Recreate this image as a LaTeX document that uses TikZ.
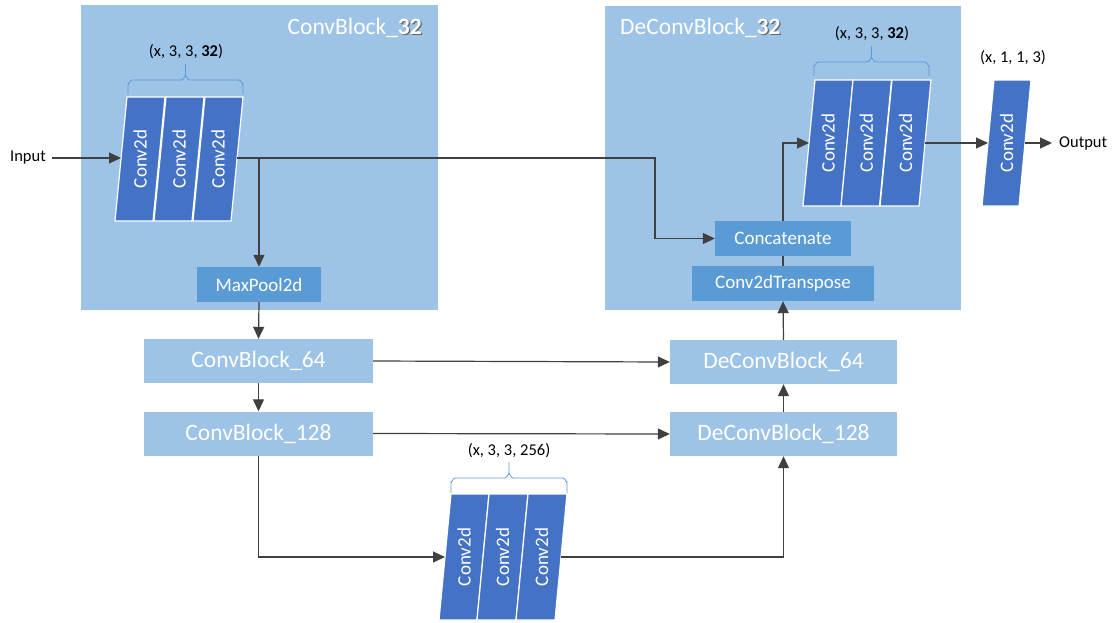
\documentclass[tikz,border=0pt]{standalone}
\usepackage{fontspec}
\setmainfont{Carlito}
\usetikzlibrary{arrows.meta,calc}
\definecolor{lightb}{HTML}{9DC3E6}
\definecolor{medb}{HTML}{5B9BD5}
\definecolor{darkb}{HTML}{4472C4}
\definecolor{lineg}{HTML}{404040}
\newcommand\fbig{\fontsize{23.5}{28}\selectfont}
\newcommand\fmed{\fontsize{19}{23}\selectfont}
\newcommand\fsml{\fontsize{16.5}{20}\selectfont}
\newcommand\shb[1]{\makebox[0pt][l]{\hspace{1.2pt}\raisebox{-1.2pt}{\textcolor{black!60}{\textbf{#1}}}}\textbf{#1}}
% column: name, top-left x, top y, bottom y, width
\newcommand\convcol[5]{%
  \pgfmathsetmacro\ccA{#2+#5}\pgfmathsetmacro\ccB{#2+#5-12}\pgfmathsetmacro\ccC{#2-12}%
  \pgfmathsetmacro\ccX{#2-6+#5/2}\pgfmathsetmacro\ccY{(#3+#4)/2}%
  \path[fill=darkb,draw=white,line width=1.2pt] (#2,#3) -- (\ccA,#3) -- (\ccB,#4) -- (\ccC,#4) -- cycle;
  \node[coltext] (#1) at (\ccX,\ccY) {Conv2d};}
\newcommand\hbr[5]{% x1 x2 yend yline ytip
  \pgfmathsetmacro\hbM{(#1+#2)/2}\pgfmathsetmacro\hbL{#1+4}\pgfmathsetmacro\hbR{#2-4}%
  \pgfmathsetmacro\hbML{\hbM-4}\pgfmathsetmacro\hbMR{\hbM+4}\pgfmathsetmacro\hbYa{#4+4}\pgfmathsetmacro\hbYb{#4-4}%
  \draw[medb,line width=0.8pt] (#1,#3) -- (#1,\hbYa) to[out=-90,in=180] (\hbL,#4) -- (\hbML,#4) to[out=0,in=90] (\hbM,\hbYb) -- (\hbM,#5);
  \draw[medb,line width=0.8pt] (#2,#3) -- (#2,\hbYa) to[out=-90,in=0] (\hbR,#4) -- (\hbMR,#4) to[out=180,in=90] (\hbM,\hbYb);}
\begin{document}
\begin{tikzpicture}[x=1pt,y=-1pt,
  coltext/.style={rotate=90,text=white,font=\fmed,inner sep=0pt},
  blk/.style={fill=lightb,text=white,font=\fbig,minimum width=229pt,minimum height=44pt,inner sep=0pt},
  opbox/.style={fill=medb,text=white,font=\fmed,minimum height=35pt,inner sep=0pt},
  lbl/.style={font=\fsml,text=black,inner sep=0pt},
  ttl/.style={font=\fbig,text=white,inner sep=0pt},
  ln/.style={draw=lineg,line width=1.2pt},
  arr/.style={ln,-{Triangle[length=12pt,width=11pt]}}]
\useasboundingbox[fill=white] (0,0) rectangle (1114,622);
% big blocks
\fill[lightb] (81,5) rectangle (438,310);
\fill[lightb] (605,6) rectangle (961,310);
\node[ttl,anchor=east] (t1) at (422,28) {ConvBlock\_\shb{32}};
\node[ttl,anchor=west] (t2) at (620,28) {DeConvBlock\_\shb{32}};
% encoder stack
\convcol{e1}{127}{97}{221}{38}
\convcol{e2}{166}{97}{221}{38}
\convcol{e3}{205}{97}{221}{38}
\hbr{128}{243}{94}{80}{64}
\node[lbl] (le) at (186,52) {(x, 3, 3, \textbf{32})};
\coordinate (encin) at (121,158);
\coordinate (encout) at (237,158);
\node[lbl,anchor=east] (inp) at (46,158) {Input};
% decoder stack
\convcol{d1}{815}{80}{206}{38}
\convcol{d2}{853}{80}{206}{38.5}
\convcol{d3}{892}{80}{206}{39}
\hbr{814}{929}{76}{62}{46}
\node[lbl] (ld) at (872,34) {(x, 3, 3, \textbf{32})};
\coordinate (decin) at (809,143);
\coordinate (decout) at (925,143);
% output conv
\convcol{o1}{994}{80}{206}{37}
\node[lbl] (lo) at (1013,58) {(x, 1, 1, 3)};
\coordinate (outin) at (988,143);
\coordinate (outout) at (1025,143);
\node[lbl,anchor=west] (outp) at (1059,143) {Output};
\coordinate (outend) at (1052,143);
% bottleneck
\convcol{b1}{451}{494}{620}{38}
\convcol{b2}{489}{494}{620}{39}
\convcol{b3}{528}{494}{620}{39}
\hbr{451}{567}{493}{478}{462}
\node[lbl] (lb) at (509,451) {(x, 3, 3, 256)};
\coordinate (botin) at (445,557);
\coordinate (botout) at (561,557);
% boxes
\node[opbox,minimum width=124pt] (mp) at (259,284.5) {MaxPool2d};
\node[blk] (cb64) at (258.5,361) {ConvBlock\_64};
\node[blk] (cb128) at (258.5,433.5) {ConvBlock\_128};
\node[blk,minimum width=227pt] (dcb64) at (783.5,362) {DeConvBlock\_64};
\node[blk,minimum width=227pt] (dcb128) at (783.5,434) {DeConvBlock\_128};
\node[opbox,minimum width=136pt] (cat) at (783,238.5) {Concatenate};
\node[opbox,minimum width=182pt] (ct) at (783,283.5) {Conv2dTranspose};
\coordinate (skip) at (655,200);
\coordinate (inpend) at (52,158);
% connectors
\draw[arr] (inpend) -- (encin);
\draw[arr] (encout) -| (mp.north);
\draw[arr] (encout) -| (skip) |- (cat.west);
\draw[arr] (mp.south) -- (cb64.north);
\draw[arr] (cb64.south) -- (cb128.north);
\draw[arr] (cb64.east) -- (dcb64.west);
\draw[arr] (cb128.east) -- (dcb128.west);
\draw[arr] (cb128.south) |- (botin);
\draw[arr] (botout) -| (dcb128.south);
\draw[arr] (dcb128.north) -- (dcb64.south);
\draw[arr] (dcb64.north) -- (ct.south);
\draw[ln] (ct.north) -- (cat.south);
\draw[arr] (cat.north) |- (decin);
\draw[arr] (decout) -- (outin);
\draw[arr] (outout) -- (outend);
\end{tikzpicture}
\end{document}
